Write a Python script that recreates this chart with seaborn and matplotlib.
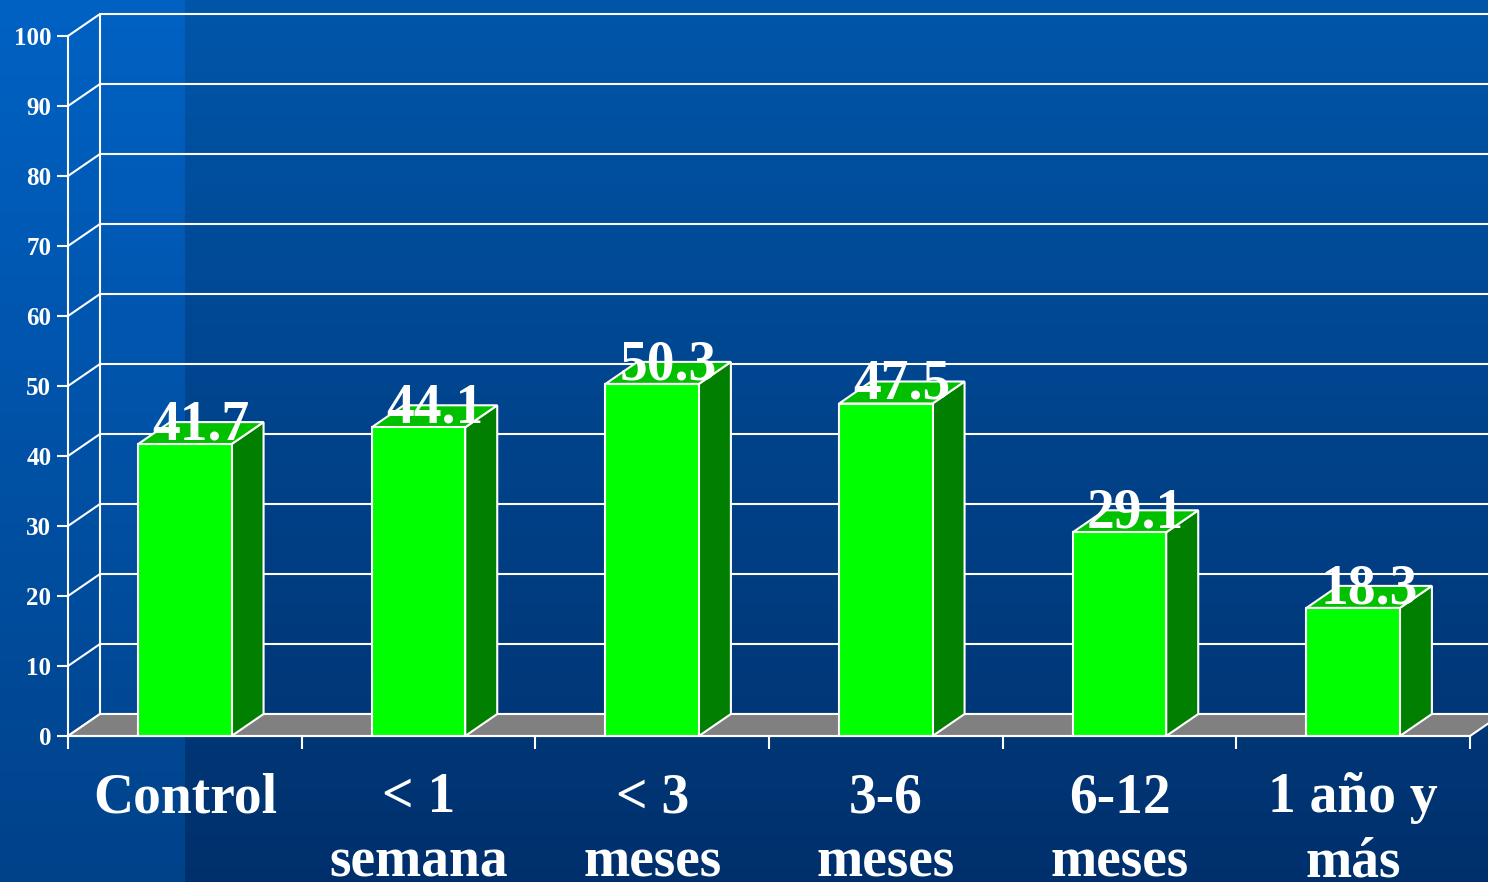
import numpy as np
import matplotlib
matplotlib.use("Agg")
import matplotlib.pyplot as plt
from matplotlib.patches import Polygon
import seaborn as sns

# datos
categorias = ["Control", "< 1\nsemana", "< 3\nmeses", "3-6\nmeses", "6-12\nmeses", "1 año y\nmás"]
valores = [41.7, 44.1, 50.3, 47.5, 29.1, 18.3]
yticks = [0, 10, 20, 30, 40, 50, 60, 70, 80, 90, 100]

sns.set_style("white")
plt.rcParams["font.family"] = ["Liberation Serif", "DejaVu Serif"]

W, H = 1488, 882
fig = plt.figure(figsize=(W / 100, H / 100), dpi=100)

# fondo degradado
bg = fig.add_axes([0, 0, 1, 1], zorder=-10)
t = np.linspace(0, 1, H)[:, None, None]
top_r = np.array([0, 86, 170]) / 255
bot_r = np.array([0, 48, 108]) / 255
top_l = np.array([0, 98, 196]) / 255
bot_l = np.array([0, 66, 138]) / 255
img = np.ones((H, W, 3)) * (top_r + (bot_r - top_r) * t)
img[:, :185] = (top_l + (bot_l - top_l) * t)
bg.imshow(img, aspect="auto", extent=[0, 1, 0, 1])
bg.axis("off")

# ejes principales
x0, x1 = 68, 1470
y0, y1 = 736, 36
ax = fig.add_axes([x0 / W, (H - y0) / H, (x1 - x0) / W, (y0 - y1) / H])
ax.set_facecolor("none")

n = len(categorias)
ax.set_xlim(-0.5, n - 0.5)
ax.set_ylim(0, 100)

# profundidad 3D en unidades de datos
dx = 32 / ((x1 - x0) / n)
dy = 22 / ((y0 - y1) / 100)

# pared trasera y lineas de rejilla
for v in yticks:
    ax.plot([-0.5, -0.5 + dx], [v, v + dy], color="white", lw=1.5, clip_on=False, zorder=1)
    ax.plot([-0.5 + dx, n + 1], [v + dy, v + dy], color="white", lw=1.5, clip_on=False, zorder=1)
ax.plot([-0.5 + dx, -0.5 + dx], [dy, 100 + dy], color="white", lw=1.5, clip_on=False, zorder=1)

# suelo
suelo = Polygon([(-0.5, 0), (n - 0.5, 0), (n - 0.5 + dx, dy), (-0.5 + dx, dy)],
                closed=True, facecolor="#808080", edgecolor="white", lw=1.5, zorder=2, clip_on=False)
ax.add_patch(suelo)

sns.barplot(x=categorias, y=valores, width=0.4, color="#00FF00", saturation=1,
            edgecolor="white", linewidth=1.5, ax=ax)
ax.set_xlim(-0.5, n - 0.5)
ax.set_ylim(0, 100)

for p in list(ax.patches):
    if p is suelo:
        continue
    p.set_zorder(4)
    bx, bw, bh = p.get_x(), p.get_width(), p.get_height()
    lado = Polygon([(bx + bw, 0), (bx + bw + dx, dy), (bx + bw + dx, bh + dy), (bx + bw, bh)],
                   closed=True, facecolor="#007F00", edgecolor="white", lw=1.5, zorder=3, clip_on=False)
    tapa = Polygon([(bx, bh), (bx + dx, bh + dy), (bx + bw + dx, bh + dy), (bx + bw, bh)],
                   closed=True, facecolor="#00C000", edgecolor="white", lw=1.5, zorder=3, clip_on=False)
    ax.add_patch(lado)
    ax.add_patch(tapa)
    ax.text(bx + bw / 2 + dx / 2, bh + 0.7, f"{bh:.1f}", ha="center", va="baseline",
            color="white", fontsize=40, fontweight="bold", zorder=6)

# ejes y marcas
for s in ["top", "right"]:
    ax.spines[s].set_visible(False)
for s in ["left", "bottom"]:
    ax.spines[s].set_color("white")
    ax.spines[s].set_linewidth(1.5)
    ax.spines[s].set_zorder(5)

ax.set_yticks(yticks)
ax.set_yticklabels([str(v) for v in yticks])
ax.tick_params(axis="y", colors="white", length=8, width=1.5, pad=4, labelsize=18, left=True)
for lbl in ax.get_yticklabels():
    lbl.set_fontweight("bold")

ax.set_xticks(np.arange(-0.5, n, 1.0))
ax.set_xticklabels([])
ax.tick_params(axis="x", which="major", colors="white", length=9, width=1.5, bottom=True)
ax.set_xticks(np.arange(n), minor=True)
ax.set_xticklabels(categorias, minor=True)
ax.tick_params(axis="x", which="minor", length=0, pad=26, labelsize=40, labelcolor="white")
for lbl in ax.get_xticklabels(minor=True):
    lbl.set_fontweight("bold")
    lbl.set_linespacing(1.3)

ax.set_xlabel("")
ax.set_ylabel("")

fig.savefig("out.png", dpi=100)
